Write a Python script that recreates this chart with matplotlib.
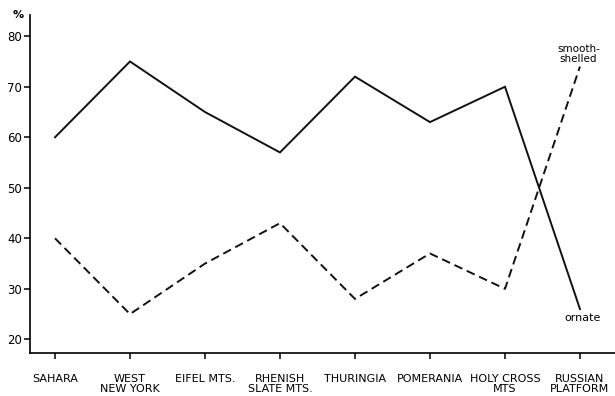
import matplotlib
matplotlib.use("Agg")
import matplotlib.pyplot as plt

# ── Data ────────────────────────────────────────────────────────────────
regions = ["SAHARA", "WEST\nNEW YORK", "EIFEL MTS.", "RHENISH\nSLATE MTS.",
           "THURINGIA", "POMERANIA", "HOLY CROSS\nMTS", "RUSSIAN\nPLATFORM"]
ornate = [60, 75, 65, 57, 72, 63, 70, 26]
smooth = [40, 25, 35, 43, 28, 37, 30, 74]
yticks = [20, 30, 40, 50, 60, 70, 80]

plt.rcParams["font.family"] = ["DejaVu Sans"]

fig = plt.figure(figsize=(6.15, 3.96), dpi=100)
ax = fig.add_axes([0.0488, 0.1086, 0.9512, 0.8535])

x = list(range(len(regions)))
ax.plot(x, ornate, color="#111111", linewidth=1.4, solid_joinstyle="miter")
ax.plot(x, smooth, color="#111111", linewidth=1.4, linestyle=(0, (4.5, 2.5)))

ax.set_xlim(-0.333, 7.467)
ax.set_ylim(17.3, 84.2)
ax.set_xticks(x)
ax.set_xticklabels(regions, fontsize=8, linespacing=1.0)
ax.set_yticks(yticks)
ax.set_yticklabels([str(v) for v in yticks], fontsize=8.5)

for side in ("top", "right"):
    ax.spines[side].set_visible(False)
for side in ("left", "bottom"):
    ax.spines[side].set_linewidth(1.2)
ax.tick_params(axis="x", direction="out", length=4, width=1.1, pad=11)
ax.tick_params(axis="y", direction="out", length=4.5, width=1.1, pad=1)

# series labels next to line ends
ax.text(x[-1] - 0.02, smooth[-1] + 0.6, "smooth-\nshelled", fontsize=7.5,
        ha="center", va="bottom", linespacing=1.0)
ax.text(x[-1] + 0.03, ornate[-1] - 0.8, "ornate", fontsize=8,
        ha="center", va="top")

# unit label at top of the y axis
ax.text(-0.01, 1.0, "%", transform=ax.transAxes, fontsize=8,
        ha="right", va="center", fontweight="bold")

fig.savefig("out.png", dpi=100)
